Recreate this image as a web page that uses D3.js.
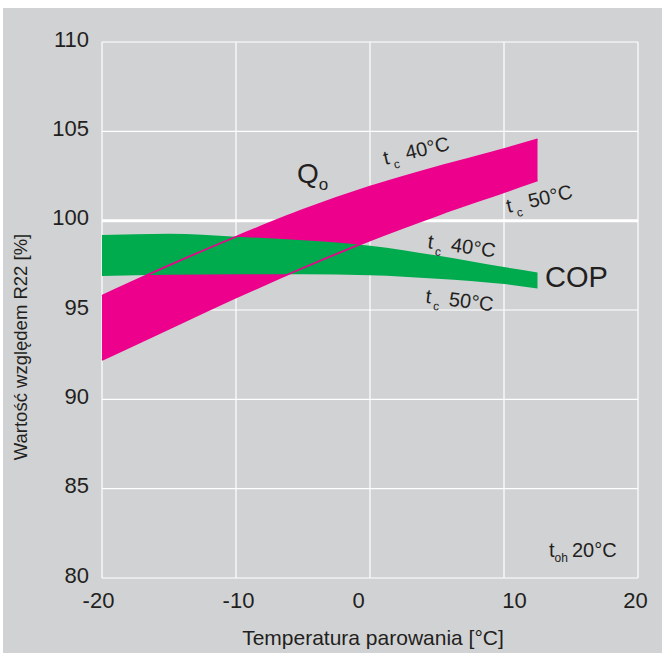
<!DOCTYPE html>
<html><head><meta charset="utf-8">
<script src="https://cdn.jsdelivr.net/npm/d3@7"></script>
<style>
html,body{margin:0;padding:0;background:#fff;}
svg{display:block;font-family:"Liberation Sans",Arial,Helvetica,sans-serif;}
</style></head>
<body><svg id="c" width="662" height="653"></svg>
<script>
// ---- data ----
const evapTemp = [-20, -15, -10, -5, 0, 5, 10, 12.5];
const qo_tc40  = [95.8, 97.5, 99.1, 100.6, 101.9, 103.0, 104.0, 104.55];
const qo_tc50  = [92.2, 93.95, 95.7, 97.35, 98.9, 100.3, 101.6, 102.25];
const cop_tc40 = [99.2, 99.27, 99.1, 98.9, 98.6, 98.05, 97.4, 97.1];
const cop_tc50 = [96.9, 96.97, 97.0, 97.0, 96.95, 96.75, 96.45, 96.2];
const xTicks = [-20, -10, 0, 10, 20];
const yTicks = [80, 85, 90, 95, 100, 105, 110];
const xTitle = "Temperatura parowania [°C]";
const yTitle = "Wartość względem R22 [%]";

// ---- layout / style ----
const xTickNudge = [-4, 2, -12, 10, -3];
const BG = "#d1d2d4", MAG = "#ec008c", GRN = "#00ab4e", TXT = "#231f20";

const svg = d3.select("#c");
svg.append("rect").attr("x",3).attr("y",8).attr("width",659).attr("height",645).attr("fill",BG);

const x = d3.scaleLinear().domain([-20,20]).range([102,638]);
const y = d3.scaleLinear().domain([80,110]).range([578,42]);

// grid
const grid = svg.append("g");
grid.selectAll("line.v").data(xTicks).join("line")
  .attr("x1",d=>x(d)).attr("x2",d=>x(d)).attr("y1",y(80)).attr("y2",y(110))
  .attr("stroke","#fff").attr("stroke-width",1.2);
grid.selectAll("line.h").data(yTicks).join("line")
  .attr("x1",x(-20)).attr("x2",x(20)).attr("y1",d=>y(d)).attr("y2",d=>y(d))
  .attr("stroke","#fff").attr("stroke-width",d=>d===100?3:1.2);

// bands
const qo = evapTemp.map((t,i)=>({t, hi:qo_tc40[i], lo:qo_tc50[i]}));
const cop = evapTemp.map((t,i)=>({t, hi:cop_tc40[i], lo:cop_tc50[i]}));
const area = d3.area().x(d=>x(d.t)).y0(d=>y(d.lo)).y1(d=>y(d.hi)).curve(d3.curveMonotoneX);
svg.append("path").datum(qo).attr("d",area).attr("fill",MAG);
svg.append("path").datum(cop).attr("d",area).attr("fill",GRN);
const lineHi = d3.line().x(d=>x(d.t)).y(d=>y(d.hi)).curve(d3.curveMonotoneX);
const lineLo = d3.line().x(d=>x(d.t)).y(d=>y(d.lo)).curve(d3.curveMonotoneX);
svg.append("path").datum(qo).attr("d",lineHi).attr("fill","none").attr("stroke",MAG).attr("stroke-width",1.8);
svg.append("path").datum(qo).attr("d",lineLo).attr("fill","none").attr("stroke",MAG).attr("stroke-width",1.8);

// axes (labels only)
const fmt = d => String(d);
const ax = svg.append("g").attr("transform",`translate(0,${y(80)})`)
  .call(d3.axisBottom(x).tickValues(xTicks).tickSize(0).tickPadding(0).tickFormat(fmt));
ax.select(".domain").remove();
ax.selectAll("text").attr("y",30).attr("dy",0).attr("dx",(d,i)=>xTickNudge[i])
  .attr("font-size",22).attr("fill",TXT).attr("font-family",null);

const ay = svg.append("g").attr("transform",`translate(${x(-20)},0)`)
  .call(d3.axisLeft(y).tickValues(yTicks).tickSize(0).tickPadding(13).tickFormat(fmt));
ay.select(".domain").remove();
ay.selectAll("text").attr("dy",4).attr("font-size",22).attr("fill",TXT).attr("font-family",null);

// titles
svg.append("text").attr("x",373).attr("y",645).attr("text-anchor","middle")
  .attr("font-size",21).attr("fill",TXT).text(xTitle);
svg.append("text").attr("transform","translate(27,347) rotate(-90)").attr("text-anchor","middle")
  .attr("font-size",18.5).attr("fill",TXT).text(yTitle);

// annotations
function subLabel(px, py, rot, main, sub, rest, fs, sfs, dsub, dxs, dxr){
  const t = svg.append("text").attr("transform",`translate(${px},${py}) rotate(${rot})`)
    .attr("font-size",fs).attr("fill",TXT);
  t.append("tspan").text(main);
  t.append("tspan").attr("font-size",sfs).attr("dy",dsub).attr("dx",dxs).text(sub);
  if(rest) t.append("tspan").attr("dy",-dsub).attr("dx",dxr).text(rest);
  return t;
}
subLabel(x(-5.45), y(102.1), 0, "Q", "o", null, 28, 17, 7, 0, 0);
subLabel(x(1.12), y(103.12), -13, "t", "c", "40°C", 20, 12, 6, 3, 8);
subLabel(x(10.3), y(100.43), -13, "t", "c", "50°C", 20, 12, 6, 3, 8);
subLabel(x(4.25), y(98.47), 8, "t", "c", "40°C", 20, 12, 6, 3, 9);
subLabel(x(4.1), y(95.4), 7, "t", "c", "50°C", 20, 12, 6, 3, 9);
svg.append("text").attr("x",x(13.06)).attr("y",y(96.29)).attr("font-size",29).attr("fill",TXT).text("COP");
subLabel(x(13.36), y(81.18), 0, "t", "oh", "20°C", 20, 12, 5, 0, 4);
</script></body></html>
